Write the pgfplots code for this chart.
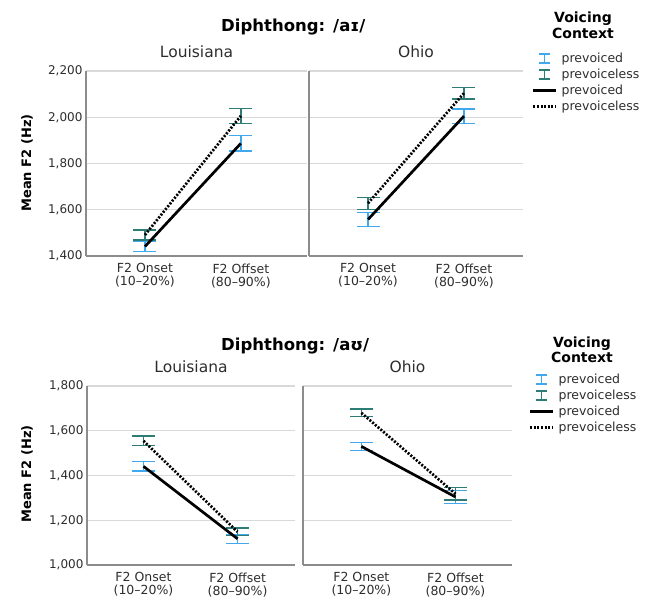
\documentclass[border=0pt]{standalone}
\usepackage{fontspec}
\setmainfont{DejaVu Sans}
\usepackage{pgfplots}
\pgfplotsset{compat=1.18}
\definecolor{spblue}{RGB}{66,168,238}
\definecolor{spteal}{RGB}{45,125,118}
\definecolor{gridc}{RGB}{217,217,217}
\definecolor{axc}{RGB}{140,140,140}
\definecolor{txt}{RGB}{45,45,45}
\pgfplotsset{
  panel/.style={
    scale only axis, anchor=south west, clip=false,
    axis lines=left, axis line style={-, draw=axc, line width=1.2pt},
    ymajorgrids, grid style={gridc, line width=1.1pt},
    major tick length=0pt,
    xtick={0,1},
    xticklabels={F2 Onset\\(10--20\%), F2 Offset\\(80--90\%)},
    xticklabel style={align=center, font=\fontsize{12.5}{13}\selectfont, text=txt, yshift=-4pt},
    yticklabel style={font=\fontsize{12}{14}\selectfont, text=txt},
    /pgf/number format/1000 sep={,},
    /pgf/number format/fixed,
    /pgf/number format/assume math mode=true,
    title style={font=\fontsize{15.5}{18}\selectfont, text=txt, at={(0.5,1)}, anchor=base, yshift=8pt},
  },
  ebar/.style={draw=none, mark=none, forget plot,
    error bars/.cd, y dir=both, y explicit,
    error bar style={draw=#1, line width=1.4pt, solid},
    error mark options={rotate=90, draw=#1, mark size=11.5pt, line width=1.4pt, solid}},
  sline/.style={black, line width=2.7pt, mark=none, forget plot},
  dline/.style={black, line width=2.7pt, dash pattern=on 2pt off 1.6pt, mark=none, forget plot},
  legimgs/.style={
    legend style={draw=none, fill=none, legend cell align=left, anchor=north west,
      inner sep=0pt, outer sep=0pt, row sep=4pt, column sep=4pt,
      font=\fontsize{12.5}{14}\selectfont,
      nodes={inner sep=0pt, text height=9.5pt, text depth=2.5pt, text=txt}},
  },
}
\newcommand{\legendset}{%
  \addlegendimage{legend image code/.code={\path[draw=none,fill=none] (0pt,-6pt) rectangle (23pt,6pt);
    \draw[spblue, line width=1.4pt, solid] (11pt,-4.5pt) -- (11pt,4.5pt) (5.5pt,-4.5pt) -- (16.5pt,-4.5pt) (5.5pt,4.5pt) -- (16.5pt,4.5pt);}}
  \addlegendentry{prevoiced}
  \addlegendimage{legend image code/.code={\path[draw=none,fill=none] (0pt,-6pt) rectangle (23pt,6pt);
    \draw[spteal, line width=1.4pt, solid] (11pt,-4.5pt) -- (11pt,4.5pt) (5.5pt,-4.5pt) -- (16.5pt,-4.5pt) (5.5pt,4.5pt) -- (16.5pt,4.5pt);}}
  \addlegendentry{prevoiceless}
  \addlegendimage{legend image code/.code={\path[draw=none,fill=none] (0pt,-6pt) rectangle (23pt,6pt);
    \draw[black, line width=2.6pt, solid] (0pt,0pt) -- (23pt,0pt);}}
  \addlegendentry{prevoiced}
  \addlegendimage{legend image code/.code={\path[draw=none,fill=none] (0pt,-6pt) rectangle (23pt,6pt);
    \draw[black, line width=2.6pt, dash pattern=on 2pt off 1.6pt] (0pt,0pt) -- (23pt,0pt);}}
  \addlegendentry{prevoiceless}
}
\begin{document}
\begin{tikzpicture}
\useasboundingbox (0,0) rectangle (652pt,-599pt);
% ---------------- top row: /aI/ ----------------
\begin{axis}[panel, at={(86pt,-256pt)}, width=221pt, height=185pt,
  xmin=-0.615, xmax=1.69, ymin=1400, ymax=2200, ytick={1400,1600,...,2200},
  title=Louisiana]
\addplot[ebar=spblue] coordinates {(0,1441) +- (0,22) (1,1887) +- (0,33)};
\addplot[ebar=spteal] coordinates {(0,1491) +- (0,21) (1,2006) +- (0,33)};
\addplot[sline] coordinates {(0,1441) (1,1887)};
\addplot[dline] coordinates {(0,1491) (1,2006)};
\end{axis}
\begin{axis}[panel, legimgs, at={(309pt,-256pt)}, width=214pt, height=185pt,
  xmin=-0.615, xmax=1.615, ymin=1400, ymax=2200, ytick={1400,1600,...,2200},
  yticklabels={}, title=Ohio,
  legend style={at={(axis description cs:1.0421,1.1)}}]
\addplot[ebar=spblue] coordinates {(0,1558) +- (0,31) (1,2005) +- (0,31)};
\addplot[ebar=spteal] coordinates {(0,1628) +- (0,26) (1,2104) +- (0,25)};
\addplot[sline] coordinates {(0,1558) (1,2005)};
\addplot[dline] coordinates {(0,1628) (1,2104)};
\legendset
\end{axis}
% ---------------- bottom row: /aU/ ----------------
\begin{axis}[panel, at={(87pt,-565pt)}, width=208pt, height=179pt,
  xmin=-0.6, xmax=1.61, ymin=1000, ymax=1800, ytick={1000,1200,...,1800},
  title=Louisiana]
\addplot[ebar=spblue] coordinates {(0,1441) +- (0,21) (1,1117) +- (0,20)};
\addplot[ebar=spteal] coordinates {(0,1555) +- (0,21) (1,1148) +- (0,17)};
\addplot[sline] coordinates {(0,1441) (1,1117)};
\addplot[dline] coordinates {(0,1555) (1,1148)};
\end{axis}
\begin{axis}[panel, legimgs, at={(303pt,-565pt)}, width=209pt, height=179pt,
  xmin=-0.62, xmax=1.6, ymin=1000, ymax=1800, ytick={1000,1200,...,1800},
  yticklabels={}, title=Ohio,
  legend style={at={(axis description cs:1.0813,1.0698)}}]
\addplot[ebar=spblue] coordinates {(0,1530) +- (0,17) (1,1304) +- (0,28)};
\addplot[ebar=spteal] coordinates {(0,1680) +- (0,17) (1,1318) +- (0,28)};
\addplot[sline] coordinates {(0,1530) (1,1304)};
\addplot[dline] coordinates {(0,1680) (1,1318)};
\legendset
\end{axis}
% ---------------- titles and labels ----------------
\node[font=\bfseries\fontsize{16.5}{20}\selectfont, anchor=base west, inner sep=0pt] at (221pt,-32pt) {Diphthong:\hspace{8pt}/aɪ/};
\node[font=\bfseries\fontsize{16.5}{20}\selectfont, anchor=base west, inner sep=0pt] at (221pt,-350pt) {Diphthong:\hspace{8pt}/aʊ/};
\node[rotate=90, font=\bfseries\fontsize{13}{15}\selectfont, inner sep=0pt] at (27pt,-163pt) {Mean F2 (Hz)};
\node[rotate=90, font=\bfseries\fontsize{13}{15}\selectfont, inner sep=0pt] at (27pt,-474pt) {Mean F2 (Hz)};
\node[font=\bfseries\fontsize{14}{16}\selectfont, anchor=base, inner sep=0pt] at (583pt,-23pt) {Voicing};
\node[font=\bfseries\fontsize{14}{16}\selectfont, anchor=base, inner sep=0pt] at (583pt,-39pt) {Context};
\node[font=\bfseries\fontsize{14}{16}\selectfont, anchor=base, inner sep=0pt] at (582pt,-347pt) {Voicing};
\node[font=\bfseries\fontsize{14}{16}\selectfont, anchor=base, inner sep=0pt] at (582pt,-362pt) {Context};
\end{tikzpicture}
\end{document}
